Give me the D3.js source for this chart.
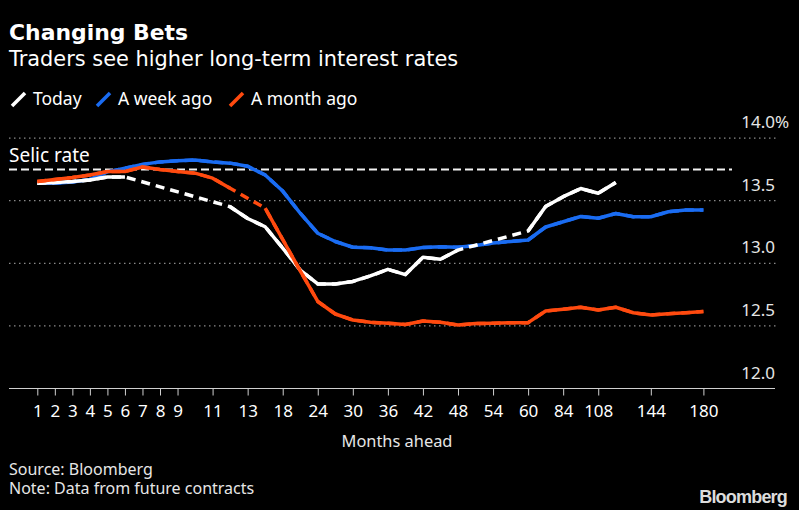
<!DOCTYPE html>
<html>
<head>
<meta charset="utf-8" />
<title>Changing Bets</title>
<script src="https://d3js.org/d3.v7.min.js"></script>
<style>
    body { margin: 0; background: #000; }
    text { font-family: "Noto Sans", sans-serif; fill: #fff; }
</style>
</head>
<body>
<script>
// months ahead (point scale, one slot per contract)
var months = [1,2,3,4,5,6,7,8,9,10,11,12,13,15,18,21,24,27,30,33,36,39,42,45,48,51,54,57,60,72,84,96,108,120,132,144,156,168,180];
var tickMonths = [1,2,3,4,5,6,7,8,9,11,13,18,24,30,36,42,48,54,60,84,108,144,180];
var yTicks = [12.0, 12.5, 13.0, 13.5, 14.0];
var selicRate = 13.75;

// null = no contract price, bridged with a dashed line
var today = [13.64,13.645,13.653,13.665,13.69,13.69,null,null,null,null,null,13.452,13.358,13.292,13.122,12.946,12.835,12.835,12.855,12.899,12.952,12.91,13.048,13.032,13.106,null,null,null,13.258,13.454,13.532,13.597,13.559,13.645,null,null,null,null,null];
var weekAgo = [13.64,13.64,13.65,13.67,13.73,13.76,13.79,13.81,13.82,13.825,13.81,13.80,13.775,13.705,13.577,13.40,13.24,13.174,13.128,13.125,13.106,13.106,13.126,13.132,13.128,13.142,13.162,13.174,13.186,13.29,13.332,13.374,13.36,13.398,13.372,13.372,13.412,13.426,13.426];
var monthAgo = [13.653,13.669,13.685,13.705,13.733,13.733,13.769,13.749,13.733,13.72,13.68,13.60,null,13.44,13.19,12.94,12.695,12.595,12.547,12.529,12.521,12.511,12.539,12.529,12.507,12.519,12.521,12.526,12.526,12.619,12.633,12.649,12.627,12.649,12.605,12.587,12.597,12.605,12.615];

var seriesNames = ["Today", "A week ago", "A month ago"];
var colors = {"Today": "#ffffff", "A week ago": "#1a6cf2", "A month ago": "#ff4a0f"};

var width = 799, height = 510;
var svg = d3.select("body").append("svg")
    .attr("width", width)
    .attr("height", height)
    .style("background", "#000");

var x = d3.scalePoint()
    .domain(months)
    .range([37.3, 703.4]);

var y = d3.scaleLinear()
    .domain([12, 14])
    .range([388.5, 138.1]);

// titles
svg.append("text").attr("x", 9).attr("y", 39.5)
    .style("font-family", "'DejaVu Sans', sans-serif")
    .style("font-size", "21.9px").style("font-weight", "bold")
    .text("Changing Bets");
svg.append("text").attr("x", 9).attr("y", 65.5)
    .style("font-family", "'DejaVu Sans', sans-serif")
    .style("font-size", "20.9px")
    .text("Traders see higher long-term interest rates");

// legend
var legendX = [12, 97, 230];
seriesNames.forEach(function(name, i) {
    var g = svg.append("g").attr("transform", "translate(" + legendX[i] + ",0)");
    g.append("line")
        .attr("x1", 0).attr("y1", 106).attr("x2", 13).attr("y2", 93)
        .attr("stroke", colors[name]).attr("stroke-width", 3.5);
    g.append("text").attr("x", 21).attr("y", 105)
        .style("font-size", "17.5px")
        .text(name);
});

// grid
svg.append("g")
    .selectAll("line")
    .data(yTicks.filter(d => d > 12))
    .enter()
    .append("line")
        .attr("x1", 9).attr("x2", 776)
        .attr("y1", d => y(d)).attr("y2", d => y(d))
        .attr("stroke", "#8a8a8a")
        .attr("stroke-width", 1.2)
        .attr("stroke-dasharray", "1.5,3.5");

// y labels, right side above each line
svg.append("g")
    .selectAll("text")
    .data(yTicks)
    .enter()
    .append("text")
        .attr("x", 775)
        .attr("y", d => y(d) - 10)
        .attr("text-anchor", "end")
        .style("font-size", "17px")
        .style("fill", "#e6e6e6")
        .text(d => d.toFixed(1));
svg.append("text")
    .attr("x", 775).attr("y", y(14) - 10)
    .style("font-size", "17px").style("fill", "#e6e6e6")
    .text("%");

// x axis
var xAxis = d3.axisBottom(x)
    .tickValues(tickMonths)
    .tickSize(7)
    .tickPadding(9);
var ax = svg.append("g")
    .attr("transform", "translate(0," + y(12) + ")")
    .call(xAxis);
ax.select(".domain").remove();
ax.selectAll(".tick line").attr("stroke", "#d0d0d0");
ax.selectAll(".tick text")
    .style("font-size", "17px")
    .style("font-family", "'Noto Sans', sans-serif")
    .attr("fill", "#e6e6e6");
svg.append("line")
    .attr("x1", 9).attr("x2", 775)
    .attr("y1", y(12)).attr("y2", y(12))
    .attr("stroke", "#d0d0d0").attr("stroke-width", 1.2);

svg.append("text").attr("x", 397).attr("y", 447)
    .attr("text-anchor", "middle")
    .style("font-size", "16.4px").style("fill", "#e6e6e6")
    .text("Months ahead");

// selic rate reference
svg.append("line")
    .attr("x1", 9).attr("x2", 732)
    .attr("y1", y(selicRate)).attr("y2", y(selicRate))
    .attr("stroke", "#f2f2f2").attr("stroke-width", 2)
    .attr("stroke-dasharray", "8,4");
svg.append("text").attr("x", 9).attr("y", y(selicRate) - 7)
    .style("font-size", "19px")
    .text("Selic rate");

// series lines
var line = d3.line()
    .defined(d => d.v != null)
    .x(d => x(d.m))
    .y(d => y(d.v));

function drawSeries(name, values) {
    var pts = values.map((v, i) => ({m: months[i], v: v}));
    // dashed bridge across missing contracts
    svg.append("path")
        .datum(pts.filter(d => d.v != null))
        .attr("d", line)
        .attr("fill", "none")
        .attr("stroke", colors[name])
        .attr("stroke-width", 3.5)
        .attr("stroke-dasharray", "9,6");
    svg.append("path")
        .datum(pts)
        .attr("d", line)
        .attr("fill", "none")
        .attr("stroke", colors[name])
        .attr("stroke-width", 3.5)
        .attr("stroke-linejoin", "round");
}
drawSeries("A week ago", weekAgo);
drawSeries("Today", today);
drawSeries("A month ago", monthAgo);

// footer
svg.append("text").attr("x", 9).attr("y", 475)
    .style("font-size", "16px").style("fill", "#e6e6e6")
    .text("Source: Bloomberg");
svg.append("text").attr("x", 9).attr("y", 494)
    .style("font-size", "16px").style("fill", "#e6e6e6")
    .text("Note: Data from future contracts");
svg.append("text").attr("x", 787).attr("y", 503)
    .attr("text-anchor", "end")
    .style("font-family", "'Liberation Sans', Arial, sans-serif")
    .style("font-size", "18px").style("font-weight", "bold")
    .style("letter-spacing", "-0.8px")
    .style("fill", "#dcdcdc")
    .text("Bloomberg");
</script>
</body>
</html>
